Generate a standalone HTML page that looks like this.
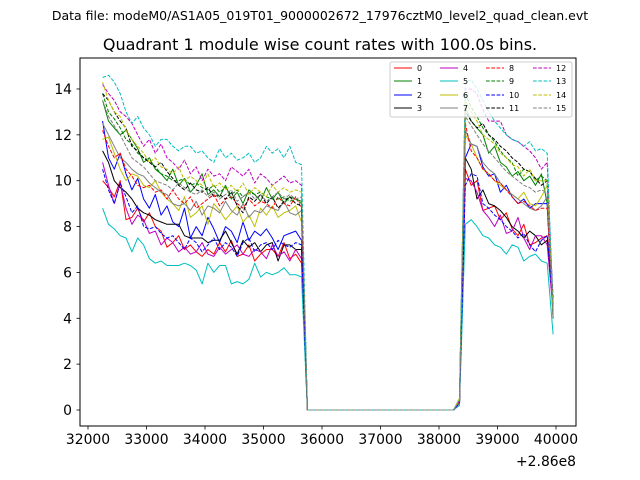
<!DOCTYPE html>
<html><head><meta charset="utf-8"><style>
html,body{margin:0;padding:0;background:#fff;}
svg{display:block;font-family:"DejaVu Sans","Liberation Sans",sans-serif;}
</style></head><body>
<svg id="chart" width="640" height="480" viewBox="0 0 640 480" xmlns="http://www.w3.org/2000/svg">
<text x="320" y="20" font-size="12.5" text-anchor="middle">Data file: modeM0/AS1A05_019T01_9000002672_17976cztM0_level2_quad_clean.evt</text>
<text x="320" y="50" font-size="16" text-anchor="middle">Quadrant 1 module wise count rates with 100.0s bins.</text>
<g id="plot"></g>
<rect x="80" y="58" width="496" height="368" fill="none" stroke="#000" stroke-width="1"/>
<g id="xticks"></g>
<g id="yticks"></g>
<text x="576" y="466" font-size="13.9" text-anchor="end">+2.86e8</text>
<g id="legend"></g>
</svg>
<script>
const seg1Times=[32250,32350,32450,32550,32650,32750,32850,32950,33050,33150,33250,33350,33450,33550,33650,33750,33850,33950,34050,34150,34250,34350,34450,34550,34650,34750,34850,34950,35050,35150,35250,35350,35450,35550,35650];
const gapTimes=[35750,35850,35950,36050,36150,36250,36350,36450,36550,36650,36750,36850,36950,37050,37150,37250,37350,37450,37550,37650,37750,37850,37950,38050,38150,38250];
const gapValues=[0,0,0,0,0,0,0,0,0,0,0,0,0,0,0,0,0,0,0,0,0,0,0,0,0,0];
const seg2Times=[38350,38450,38550,38650,38750,38850,38950,39050,39150,39250,39350,39450,39550,39650,39750,39850,39950];
const seriesLabels=["0","1","2","3","4","5","6","7","8","9","10","11","12","13","14","15"];
const seriesColors=["#ff0000","#008000","#0000ff","#000000","#bf00bf","#00bfbf","#bfbf00","#808080","#ff0000","#008000","#0000ff","#000000","#bf00bf","#00bfbf","#bfbf00","#808080"];
const seg1Values=[
[10.0,9.7,9.3,10.0,8.3,8.4,8.8,8.2,8.6,8.0,7.8,7.1,7.3,7.6,7.0,7.2,6.9,6.7,7.0,6.8,7.3,6.9,7.4,6.7,6.8,7.2,6.5,6.8,7.0,7.0,6.7,7.3,6.6,6.8,6.4],
[13.5,12.6,12.3,12.0,12.2,11.8,11.4,10.8,11.0,10.5,10.3,10.0,10.5,9.8,10.1,9.5,9.8,10.3,9.4,9.6,9.3,9.8,9.2,9.5,9.0,9.6,9.4,9.1,9.7,9.2,9.5,9.0,9.3,9.2,9.1],
[12.6,11.0,10.5,11.2,10.3,9.6,10.1,9.2,8.8,9.4,8.5,8.9,8.2,8.0,8.8,7.5,8.0,7.6,8.4,7.9,7.3,8.0,7.8,7.3,8.2,7.4,7.8,7.6,7.9,7.5,7.0,7.6,7.7,7.8,7.4],
[11.3,10.8,10.0,9.7,9.5,9.2,8.8,8.6,8.5,8.3,8.2,8.1,8.1,8.1,7.6,7.5,7.5,7.5,7.3,7.4,7.4,7.8,7.3,6.8,7.4,7.1,7.3,6.9,7.2,7.3,6.5,7.2,7.2,7.0,7.0],
[10.8,9.8,9.0,9.9,8.8,8.1,8.5,8.3,7.7,7.8,7.2,7.5,7.3,6.9,7.1,6.8,6.9,7.3,6.8,6.7,7.1,6.8,7.0,7.2,6.8,6.7,7.0,6.9,6.6,7.2,6.7,6.9,6.5,7.0,6.6],
[8.8,8.1,7.9,7.6,7.5,6.9,7.5,7.2,6.6,6.4,6.5,6.3,6.3,6.3,6.4,6.3,6.1,5.5,6.4,6.0,6.3,6.3,5.5,5.6,5.5,5.7,6.4,5.8,6.0,5.9,6.0,6.2,5.9,5.9,5.8],
[11.8,11.9,11.2,10.5,10.0,10.3,10.2,9.8,9.7,10.0,9.5,9.2,9.0,8.7,9.3,8.4,8.6,8.9,8.1,9.0,8.7,8.3,8.6,8.9,8.2,8.5,8.0,8.8,8.5,8.9,8.4,8.6,8.7,8.9,8.2],
[12.5,12.0,11.5,11.0,10.8,10.5,10.3,10.2,9.9,9.7,9.5,9.4,9.0,8.9,9.0,8.7,9.1,8.5,8.9,8.8,8.6,9.1,8.7,8.5,9.0,8.4,8.7,8.6,8.9,8.8,8.7,9.1,8.6,8.5,8.7],
[12.2,11.5,11.0,11.2,10.5,10.2,9.8,9.7,9.8,9.5,9.6,9.2,9.6,9.2,9.0,9.3,8.8,9.0,9.2,9.4,8.9,9.2,9.3,9.0,8.8,9.2,8.9,9.1,9.0,8.8,9.3,9.0,8.9,9.3,8.8],
[13.8,13.0,12.7,12.3,11.8,11.6,11.2,11.0,10.9,10.6,10.3,10.2,10.0,10.0,10.1,9.8,9.9,9.7,9.6,9.8,9.5,9.7,9.4,9.6,9.3,9.5,9.4,9.5,9.3,9.2,9.2,9.3,9.1,9.2,9.0],
[10.5,9.6,9.0,9.9,9.3,8.6,8.9,8.0,7.9,8.0,7.7,7.5,7.6,7.3,7.0,7.5,7.3,6.9,7.2,7.5,7.0,7.3,7.1,6.7,7.3,7.5,6.9,7.2,7.3,7.0,7.4,7.2,7.1,7.3,7.2],
[13.8,13.5,13.0,12.6,12.3,11.5,11.3,11.0,10.8,10.6,10.8,10.4,10.1,9.8,9.6,9.9,9.6,9.5,9.7,9.3,9.4,9.2,9.5,8.9,8.6,9.3,9.1,9.4,9.0,9.3,8.8,9.1,9.3,9.0,8.9],
[14.2,13.8,13.5,13.0,12.8,12.5,12.0,11.5,11.8,11.2,11.6,11.0,10.8,10.5,10.9,10.3,10.6,10.0,10.5,10.2,10.3,10.0,10.6,10.4,10.2,10.5,9.9,10.3,10.1,9.8,10.0,10.2,9.9,10.0,9.8],
[14.5,14.6,14.3,13.8,13.0,12.5,12.8,12.3,12.0,11.5,11.8,11.8,11.5,11.3,11.5,11.5,11.2,11.3,11.0,10.8,11.4,11.0,11.2,10.9,11.0,11.2,10.8,11.0,11.5,11.2,11.4,11.0,11.5,10.8,10.7],
[14.3,13.5,13.0,12.8,12.2,11.8,11.5,11.2,10.8,11.0,10.6,10.5,10.3,10.6,10.0,10.2,10.0,9.8,10.3,9.7,9.9,9.6,9.8,9.5,9.9,9.4,9.7,9.5,9.3,9.8,9.5,9.7,9.5,9.6,9.5],
[13.5,12.8,12.4,12.0,11.5,11.0,10.8,10.6,10.3,10.0,9.9,9.8,9.6,9.9,9.7,9.5,9.4,9.6,9.3,9.5,9.2,9.4,9.6,9.1,9.3,9.5,9.2,9.4,9.1,9.3,9.5,9.2,9.4,9.2,9.3]
];
const seg2Values=[
[0.3,10.5,9.8,10.0,8.7,8.8,8.9,8.3,8.6,7.9,7.6,8.1,7.2,7.3,7.5,7.6,4.5],
[0.4,13.2,12.6,12.3,12.0,11.2,11.5,10.8,10.6,10.2,10.4,10.0,10.2,9.8,10.3,9.0,4.2],
[0.3,11.0,11.6,11.5,10.6,10.2,10.3,9.5,9.8,9.3,9.0,9.2,8.8,9.0,9.0,9.0,4.0],
[0.3,11.0,10.5,9.2,9.6,9.0,8.9,8.7,8.4,8.0,7.8,7.5,7.8,7.6,7.2,7.4,4.5],
[0.3,10.1,10.0,9.5,8.7,8.4,8.0,8.5,7.7,7.8,8.4,7.5,7.0,7.6,7.6,7.2,4.3],
[0.2,8.1,8.3,8.0,7.6,7.5,7.2,7.1,6.8,7.2,7.1,6.5,6.7,6.8,6.5,6.4,3.3],
[0.3,12.0,11.6,11.0,10.5,10.3,10.0,9.8,9.6,9.4,9.2,9.5,9.0,8.9,9.3,9.8,4.2],
[0.3,12.2,11.6,11.5,10.8,10.5,10.3,9.9,9.6,9.4,9.2,9.0,8.8,8.7,8.9,9.3,4.0],
[0.4,12.5,11.3,11.0,10.5,10.3,10.0,9.9,9.6,9.3,9.0,9.1,8.9,8.7,8.8,8.8,4.3],
[0.5,13.8,13.2,12.8,12.3,12.0,11.7,11.3,11.0,10.8,10.2,10.5,10.4,10.0,10.2,10.0,4.0],
[0.3,9.8,10.3,10.2,9.0,8.8,8.5,8.3,8.0,7.8,7.5,7.7,7.2,6.9,7.4,7.6,4.6],
[0.4,13.0,12.6,12.3,12.5,12.0,11.8,11.5,11.3,11.0,10.8,10.5,10.4,10.1,9.8,10.0,4.8],
[0.4,14.0,14.0,13.8,13.1,12.6,12.6,12.6,12.0,11.8,11.7,11.5,11.3,11.0,10.5,10.8,4.5],
[0.5,14.3,14.4,14.0,13.5,13.0,12.6,12.3,12.0,11.8,11.7,11.5,11.7,11.3,11.4,11.2,4.3],
[0.5,13.5,13.0,12.6,12.0,11.8,11.6,11.2,11.0,10.7,10.6,10.2,10.5,10.0,10.0,10.0,4.2],
[0.4,12.8,12.4,12.0,11.6,11.3,11.0,10.7,10.4,10.2,10.0,9.8,9.7,9.5,9.6,9.5,4.0]
];
const xTickValues=[32000,33000,34000,35000,36000,37000,38000,39000,40000];
const yTickValues=[0,2,4,6,8,10,12,14];

const NS="http://www.w3.org/2000/svg";
function xs(t){return 88+(t-32000)*0.0585;}
function ys(v){return 410-v*22.93;}
function mk(tag,attrs,parent){const e=document.createElementNS(NS,tag);for(const k in attrs)e.setAttribute(k,attrs[k]);parent.appendChild(e);return e;}

const plot=document.getElementById('plot');
for(let s=0;s<16;s++){
  const times=seg1Times.concat(gapTimes,seg2Times);
  const vals=seg1Values[s].concat(gapValues,seg2Values[s]);
  const pts=times.map((t,i)=>xs(t).toFixed(1)+","+ys(vals[i]).toFixed(1)).join(" ");
  const pl=mk('polyline',{points:pts,fill:'none',stroke:seriesColors[s],'stroke-width':1,'stroke-linejoin':'round'},plot);
  if(s>=8)pl.setAttribute('stroke-dasharray','3.7 1.6');
  
  
}
const xg=document.getElementById('xticks');
xTickValues.forEach(v=>{
  const x=xs(v);
  const l=mk('line',{x1:x,x2:x,y1:426,y2:429.5,stroke:'#000','stroke-width':0.8},xg);
  
  
  const t=mk('text',{x:x,y:444,'font-size':13.9,'text-anchor':'middle'},xg);
  t.textContent=v;
  
  
});
const yg=document.getElementById('yticks');
yTickValues.forEach(v=>{
  const y=ys(v);
  const l=mk('line',{x1:76.5,x2:80,y1:y,y2:y,stroke:'#000','stroke-width':0.8},yg);
  
  
  const t=mk('text',{x:72,y:y+5,'font-size':13.9,'text-anchor':'end'},yg);
  t.textContent=v;
  
  
});
const lg=document.getElementById('legend');
const box=mk('rect',{x:390,y:62,width:182,height:55,fill:'#fff','fill-opacity':0.8,stroke:'#ccc','stroke-width':1,rx:2},lg);


const colX=[394,440,486,533],rowY=[68,81,95,108];
for(let s=0;s<16;s++){
  const c=Math.floor(s/4),r=s%4;
  const g=mk('g',{},lg);
  
  
  const l=mk('line',{x1:colX[c],x2:colX[c]+18,y1:rowY[r],y2:rowY[r],stroke:seriesColors[s],'stroke-width':1},g);
  if(s>=8)l.setAttribute('stroke-dasharray','3.7 1.6');
  const t=mk('text',{x:colX[c]+23,y:rowY[r]+3,'font-size':8},g);
  t.textContent=seriesLabels[s];
}
</script>
</body></html>
